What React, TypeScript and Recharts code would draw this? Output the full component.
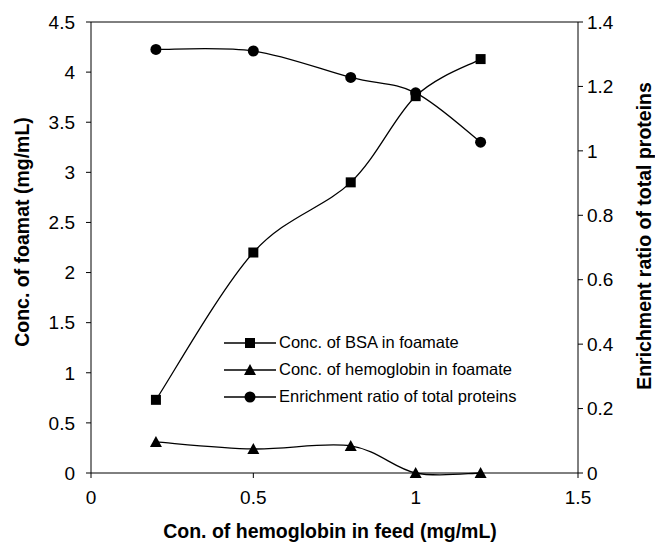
import React from 'react'
import {
  LineChart,
  Line,
  XAxis,
  YAxis,
  ReferenceLine,
} from 'recharts'

document.body.style.margin = '0'

const feed = [0.2, 0.5, 0.8, 1.0, 1.2]
const bsa = [0.73, 2.2, 2.9, 3.76, 4.13]
const hemo = [0.31, 0.24, 0.27, 0, 0]
const enrich = [1.315, 1.31, 1.228, 1.18, 1.027]

const xTicks = [0, 0.5, 1, 1.5]
const leftTicks = [0, 0.5, 1, 1.5, 2, 2.5, 3, 3.5, 4, 4.5]
const rightTicks = [0, 0.2, 0.4, 0.6, 0.8, 1, 1.2, 1.4]

const seriesNames = [
  'Conc. of BSA in foamate',
  'Conc. of hemoglobin in foamate',
  'Enrichment ratio of total proteins',
]

const data = feed.map((x, i) => ({ x, bsa: bsa[i], hemo: hemo[i], enrich: enrich[i] }))

const FONT = '"Liberation Sans", Arial, sans-serif'
const titleStyle = { fontFamily: FONT, fontSize: 19.5, fontWeight: 'bold' as const }

// excel-ish smoothed line (catmull-rom through the points)
function smooth(context: any) {
  let pts: number[][] = []
  return {
    areaStart() {},
    areaEnd() {},
    lineStart() {
      pts = []
    },
    lineEnd() {
      const n = pts.length
      if (!n) return
      context.moveTo(pts[0][0], pts[0][1])
      for (let i = 0; i < n - 1; i++) {
        const p0 = pts[Math.max(i - 1, 0)]
        const p1 = pts[i]
        const p2 = pts[i + 1]
        const p3 = pts[Math.min(i + 2, n - 1)]
        context.bezierCurveTo(
          p1[0] + (p2[0] - p0[0]) / 6,
          p1[1] + (p2[1] - p0[1]) / 6,
          p2[0] - (p3[0] - p1[0]) / 6,
          p2[1] - (p3[1] - p1[1]) / 6,
          p2[0],
          p2[1]
        )
      }
    },
    point(x: number, y: number) {
      pts.push([+x, +y])
    },
  }
}

const Square = ({ cx, cy }: any) => <rect x={cx - 5} y={cy - 5} width={10} height={10} fill="#000" />
const Triangle = ({ cx, cy }: any) => (
  <path d={`M${cx},${cy - 6}L${cx + 6},${cy + 5}L${cx - 6},${cy + 5}Z`} fill="#000" />
)
const Dot = ({ cx, cy }: any) => <circle cx={cx} cy={cy} r={5.5} fill="#000" />

const markers = [Square, Triangle, Dot]

// legend sits inside the plot, drawn as an overlay
const LegendBox = () => (
  <div
    style={{
      position: 'absolute',
      left: 224,
      top: 329,
      fontFamily: FONT,
      fontSize: 16.5,
      color: '#000',
      lineHeight: 1,
    }}
  >
    {seriesNames.map((name, i) => {
      const M = markers[i]
      return (
        <div key={name} style={{ display: 'flex', alignItems: 'center', height: 27 }}>
          <svg width={54} height={20}>
            <line x1={0} y1={10} x2={52} y2={10} stroke="#000" strokeWidth={1.3} />
            <M cx={26} cy={10} />
          </svg>
          <span style={{ marginLeft: 1 }}>{name}</span>
        </div>
      )
    })}
  </div>
)

const tick = { fontSize: 19, fill: '#000', fontFamily: FONT }

const vTitle = (text: string, x: number, y: number) => () => (
  <text
    x={x}
    y={y}
    transform={`rotate(-90, ${x}, ${y})`}
    textAnchor="middle"
    dominantBaseline="central"
    style={titleStyle}
    fill="#000"
  >
    {text}
  </text>
)

export default function App() {
  return (
    <div style={{ position: 'relative', width: 655, height: 542 }}>
      <LineChart width={655} height={542} data={data} margin={{ top: 22, right: 0, bottom: 0, left: 0 }}>
        <XAxis
          dataKey="x"
          type="number"
          domain={[0, 1.5]}
          ticks={xTicks}
          tick={tick}
          tickSize={5}
          tickMargin={13}
          height={69}
          stroke="#000"
          label={{
            content: () => (
              <text x={330} y={531} textAnchor="middle" dominantBaseline="central" style={titleStyle} fill="#000">
                Con. of hemoglobin in feed (mg/mL)
              </text>
            ),
          }}
        />
        <YAxis
          yAxisId="left"
          domain={[0, 4.5]}
          ticks={leftTicks}
          tick={tick}
          tickSize={5}
          tickMargin={11}
          width={91}
          stroke="#000"
          label={{ content: vTitle('Conc. of foamat (mg/mL)', 22, 232) }}
        />
        <YAxis
          yAxisId="right"
          orientation="right"
          domain={[0, 1.4]}
          ticks={rightTicks}
          tick={tick}
          tickSize={5}
          tickMargin={4}
          width={77}
          stroke="#000"
          label={{ content: vTitle('Enrichment ratio of total proteins', 644, 236) }}
        />
        <ReferenceLine yAxisId="left" y={4.5} stroke="#000" />
        <Line
          yAxisId="left"
          dataKey="bsa"
          name={seriesNames[0]}
          type={smooth as any}
          stroke="#000"
          strokeWidth={1.3}
          dot={<Square />}
          isAnimationActive={false}
        />
        <Line
          yAxisId="left"
          dataKey="hemo"
          name={seriesNames[1]}
          type={smooth as any}
          stroke="#000"
          strokeWidth={1.3}
          dot={<Triangle />}
          isAnimationActive={false}
        />
        <Line
          yAxisId="right"
          dataKey="enrich"
          name={seriesNames[2]}
          type={smooth as any}
          stroke="#000"
          strokeWidth={1.3}
          dot={<Dot />}
          isAnimationActive={false}
        />
      </LineChart>
      <LegendBox />
    </div>
  )
}
